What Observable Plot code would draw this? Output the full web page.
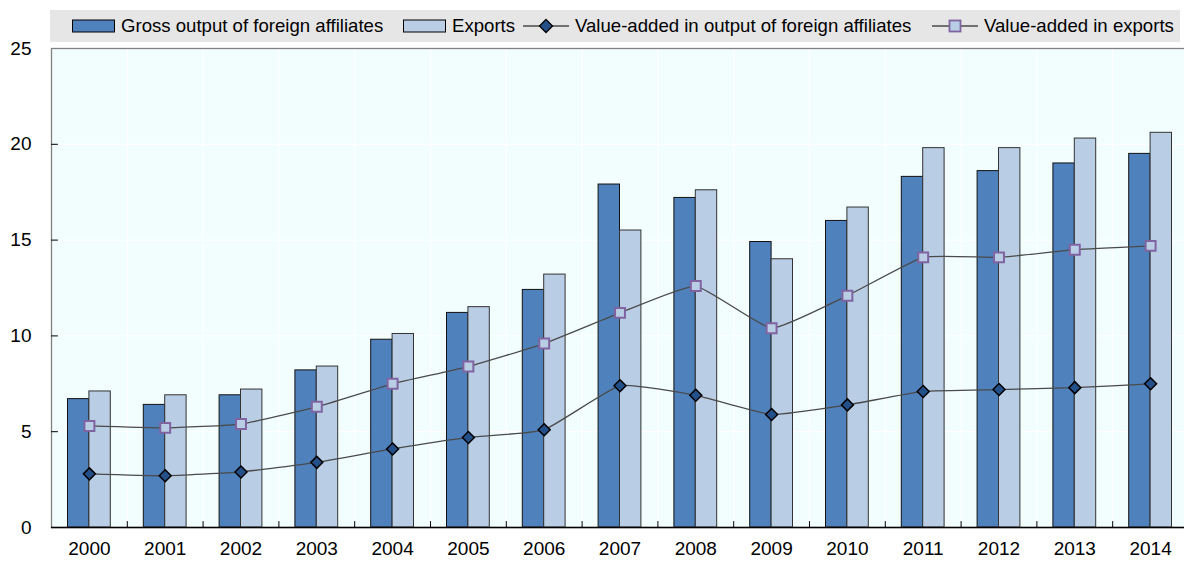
<!DOCTYPE html>
<html>
<head>
<meta charset="utf-8">
<script src="https://cdn.jsdelivr.net/npm/d3@7"></script>
<script src="https://cdn.jsdelivr.net/npm/@observablehq/plot@0.6"></script>
<style>
  html, body { margin: 0; padding: 0; background: #fff; overflow: hidden; width: 1184px; height: 563px; }
  #legend { position: relative; height: 44px; width: 1184px; font-family: "Liberation Sans", Arial, sans-serif; font-size: 18.6px; color: #000; }
  #legend .band { position: absolute; left: 50px; top: 10px; width: 1130px; height: 32px; background: #e6e6e6; }
  #legend .item { position: absolute; top: 10px; height: 32px; display: flex; align-items: center; white-space: nowrap; }
  #legend .item svg { margin-right: 6px; }
  #chart { display: block; width: 1188px; }
  #chart svg { max-width: none !important; }
</style>
</head>
<body>
<div id="legend"><div class="band"></div></div>
<div id="chart"></div>
<script>
const years = ["2000","2001","2002","2003","2004","2005","2006","2007","2008","2009","2010","2011","2012","2013","2014"];
const grossOutput = [6.7, 6.4, 6.9, 8.2, 9.8, 11.2, 12.4, 17.9, 17.2, 14.9, 16.0, 18.3, 18.6, 19.0, 19.5];
const exportsVals = [7.1, 6.9, 7.2, 8.4, 10.1, 11.5, 13.2, 15.5, 17.6, 14.0, 16.7, 19.8, 19.8, 20.3, 20.6];
const vaOutput = [2.8, 2.7, 2.9, 3.4, 4.1, 4.7, 5.1, 7.4, 6.9, 5.9, 6.4, 7.1, 7.2, 7.3, 7.5];
const vaExports = [5.3, 5.2, 5.4, 6.3, 7.5, 8.4, 9.6, 11.2, 12.6, 10.4, 12.1, 14.1, 14.1, 14.5, 14.7];
const yTicks = [0, 5, 10, 15, 20, 25];
const seriesNames = ["Gross output of foreign affiliates", "Exports", "Value-added in output of foreign affiliates", "Value-added in exports"];

const C = {dark: "#4f81bd", light: "#b9cde5", diamond: "#24508a", squareStroke: "#8064a2", line: "#4a4a4a", bg: "#f2fefe", axis: "#808080"};
const font = '"Liberation Sans", Arial, sans-serif';

const grossData = years.map((y, i) => ({year: y, value: grossOutput[i]}));
const exportData = years.map((y, i) => ({year: y, value: exportsVals[i]}));
const vaOutData = years.map((y, i) => ({year: y, value: vaOutput[i]}));
const vaExpData = years.map((y, i) => ({year: y, value: vaExports[i]}));

const W = 1188, H = 519, mL = 51, mR = 0;
const half = (W - mL - mR) / years.length / 2;
const barW = 21.4;

const plot = Plot.plot({
  width: W, height: H,
  marginTop: 4, marginBottom: 36, marginLeft: mL, marginRight: mR,
  style: {fontFamily: font, fontSize: "19px", color: "#000", background: "transparent", overflow: "visible"},
  x: {type: "band", domain: years, padding: 0, round: false, label: null},
  y: {domain: [0, 25], label: null},
  marks: [
    Plot.frame({fill: C.bg, stroke: null}),
    Plot.gridY(yTicks.slice(1, -1), {stroke: "#ffffff", strokeOpacity: 1}),
    Plot.ruleX(years.slice(1), {x: d => d, dx: -half, stroke: "#ffffff", strokeOpacity: 1}),
    Plot.barY(grossData, {x: "year", y: "value", fill: C.dark, stroke: "#111", strokeWidth: 1, insetLeft: half - barW, insetRight: half}),
    Plot.barY(exportData, {x: "year", y: "value", fill: C.light, stroke: "#333", strokeWidth: 1, insetLeft: half, insetRight: half - barW}),
    Plot.line(vaExpData, {x: "year", y: "value", stroke: C.line, strokeWidth: 1.3, curve: "cardinal", tension: 0.6}),
    Plot.line(vaOutData, {x: "year", y: "value", stroke: C.line, strokeWidth: 1.3, curve: "cardinal", tension: 0.6}),
    Plot.dot(vaExpData, {x: "year", y: "value", symbol: "square", r: 5.6, fill: C.light, stroke: C.squareStroke, strokeWidth: 2}),
    Plot.dot(vaOutData, {x: "year", y: "value", symbol: "diamond2", r: 5.4, fill: C.diamond, stroke: "#000", strokeWidth: 1.5}),
    Plot.frame({stroke: C.axis, strokeWidth: 1.3, fill: null}),
    Plot.ruleY([0], {stroke: "#000", strokeWidth: 1.3}),
    Plot.vector(yTicks.slice(1, -1), {y: d => d, frameAnchor: "left", length: 6, rotate: 90, anchor: "start", stroke: "#000", strokeWidth: 1, shape: {draw(ctx, l) { ctx.moveTo(0, 0); ctx.lineTo(0, -l); }}}),
    Plot.vector(years.slice(1), {x: d => d, y: 0, dx: -half, length: 6, rotate: 0, anchor: "start", stroke: "#000", strokeWidth: 1, shape: {draw(ctx, l) { ctx.moveTo(0, 0); ctx.lineTo(0, -l); }}}),
    Plot.axisY(yTicks, {tickSize: 0, tickPadding: 20, fontSize: 19, fill: "#000"}),
    Plot.axisX({tickSize: 0, tickPadding: 14, fontSize: 19, fill: "#000"})
  ]
});
document.getElementById("chart").appendChild(plot);

// Legend (HTML, above the SVG)
const legend = document.getElementById("legend");
function swatch(fill) {
  return `<svg width="43" height="14"><rect x="0.5" y="1" width="42" height="12" fill="${fill}" stroke="#000" stroke-width="1"/></svg>`;
}
function lineSym(kind) {
  const sym = kind === "diamond"
    ? `<path d="M23,1.5 L29.5,8 L23,14.5 L16.5,8 Z" fill="${C.diamond}" stroke="#000" stroke-width="1.3"/>`
    : `<rect x="17.5" y="2.5" width="11" height="11" fill="${C.light}" stroke="${C.squareStroke}" stroke-width="1.8"/>`;
  return `<svg width="46" height="16"><line x1="0" y1="8" x2="46" y2="8" stroke="${C.line}" stroke-width="1.3"/>${sym}</svg>`;
}
const items = [
  {left: 72, html: swatch(C.dark), label: seriesNames[0]},
  {left: 403, html: swatch(C.light), label: seriesNames[1]},
  {left: 523, html: lineSym("diamond"), label: seriesNames[2]},
  {left: 932, html: lineSym("square"), label: seriesNames[3]}
];
for (const it of items) {
  const d = document.createElement("div");
  d.className = "item";
  d.style.left = it.left + "px";
  d.innerHTML = it.html + `<span>${it.label}</span>`;
  legend.appendChild(d);
}
</script>
</body>
</html>
